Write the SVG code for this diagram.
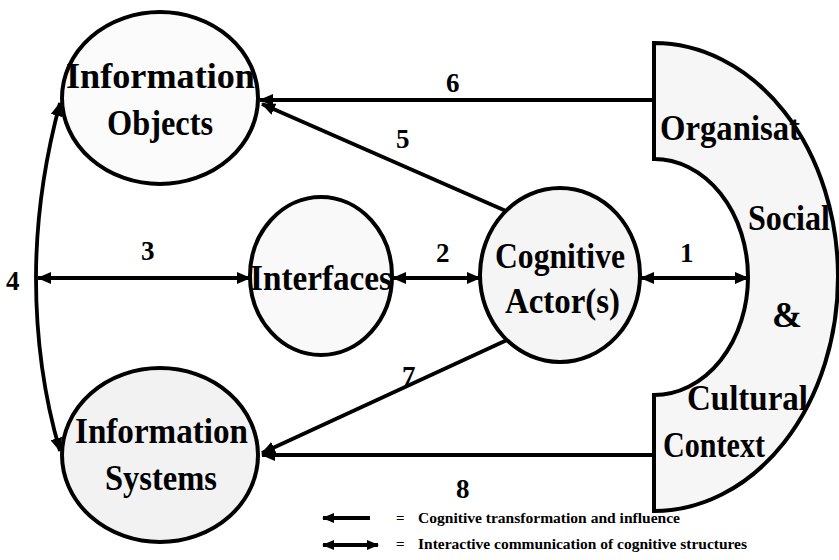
<svg xmlns="http://www.w3.org/2000/svg" width="839" height="560" viewBox="0 0 839 560">
<style>
.node{stroke:#000;stroke-width:4;}
.lbl{font-family:"Liberation Serif","Times New Roman",serif;font-weight:bold;font-size:36px;fill:#000;}
.num{font-family:"Liberation Serif","Times New Roman",serif;font-weight:bold;font-size:27px;fill:#000;}
.leg{font-family:"Liberation Serif","Times New Roman",serif;font-weight:bold;font-size:15px;fill:#000;}
.con{fill:none;stroke:#000;stroke-width:3.8;}
</style>
<defs>
<marker id="ah" markerUnits="userSpaceOnUse" markerWidth="14" markerHeight="12" refX="13" refY="6" orient="auto-start-reverse">
<path d="M0,0 L14,6 L0,12 Z" fill="#000"/>
</marker>
<marker id="ahs" markerUnits="userSpaceOnUse" markerWidth="12" markerHeight="10" refX="11" refY="5" orient="auto-start-reverse">
<path d="M0,0 L12,5 L0,10 Z" fill="#000"/>
</marker>
</defs>
<rect width="839" height="560" fill="#fff"/>

<g id="context">
<path class="node" fill="#f6f6f6" d="M654,43 A184,234 0 0 1 838,277 A184,234 0 0 1 654,511 L654,395 A94,118 0 0 0 748,277 A94,118 0 0 0 654,159 Z"/>
<text class="lbl" x="660" y="140" textLength="140" lengthAdjust="spacingAndGlyphs">Organisat</text>
<text class="lbl" x="748" y="230" textLength="82" lengthAdjust="spacingAndGlyphs">Social</text>
<text class="lbl" x="772" y="327">&amp;</text>
<text class="lbl" x="687" y="410" textLength="121" lengthAdjust="spacingAndGlyphs">Cultural</text>
<text class="lbl" x="663" y="457" textLength="102" lengthAdjust="spacingAndGlyphs" font-weight="normal">Context</text>
</g>

<g id="info-objects">
<ellipse class="node" fill="#fbfbfb" cx="160" cy="98" rx="98" ry="86"/>
<text class="lbl" x="66" y="88" textLength="189" lengthAdjust="spacingAndGlyphs">Information</text>
<text class="lbl" x="107" y="135" textLength="106" lengthAdjust="spacingAndGlyphs">Objects</text>
</g>

<g id="interfaces">
<ellipse class="node" fill="#f9f9f9" cx="321" cy="276" rx="71" ry="79"/>
<text class="lbl" x="250" y="290" textLength="142" lengthAdjust="spacingAndGlyphs">Interfaces</text>
</g>

<g id="cognitive-actor">
<ellipse class="node" fill="#f5f5f5" cx="560" cy="275" rx="80" ry="87"/>
<text class="lbl" x="495" y="268" textLength="130" lengthAdjust="spacingAndGlyphs">Cognitive</text>
<text class="lbl" x="505" y="313" textLength="115" lengthAdjust="spacingAndGlyphs">Actor(s)</text>
</g>

<g id="info-systems">
<ellipse class="node" fill="#f2f2f2" cx="160" cy="455" rx="98" ry="87"/>
<text class="lbl" x="75" y="443" textLength="173" lengthAdjust="spacingAndGlyphs">Information</text>
<text class="lbl" x="105" y="490" textLength="112" lengthAdjust="spacingAndGlyphs">Systems</text>
</g>

<g id="connectors">
<path class="con" d="M654,100 L260,100" marker-end="url(#ah)"/>
<path class="con" stroke-width="3" d="M506,211 L262,104" marker-end="url(#ah)"/>
<path class="con" d="M38,278 L250,278" marker-start="url(#ah)" marker-end="url(#ah)"/>
<path class="con" d="M393,278 L480,278" marker-start="url(#ah)" marker-end="url(#ah)"/>
<path class="con" d="M641,278 L748,278" marker-start="url(#ah)" marker-end="url(#ah)"/>
<path class="con" d="M60,103 C42,170 36,230 36,278 C36,330 42,390 60,451" marker-start="url(#ah)" marker-end="url(#ah)"/>
<path class="con" d="M507,340 L262,453" marker-end="url(#ah)"/>
<path class="con" stroke-width="3" d="M654,455 L262,455" marker-end="url(#ah)"/>
</g>

<g id="numbers">
<text class="num" x="446" y="92">6</text>
<text class="num" x="396" y="148">5</text>
<text class="num" x="141" y="260">3</text>
<text class="num" x="436" y="262">2</text>
<text class="num" x="680" y="262">1</text>
<text class="num" x="6" y="290">4</text>
<text class="num" x="402" y="385" font-weight="normal">7</text>
<text class="num" x="456" y="498">8</text>
</g>

<g id="legend">
<path class="con" stroke-width="3" d="M370,518 L323,518" marker-end="url(#ahs)"/>
<path class="con" stroke-width="3" d="M323,545 L378,545" marker-start="url(#ahs)" marker-end="url(#ahs)"/>
<text class="leg" x="396" y="523">=</text>
<text class="leg" x="418" y="523" textLength="262" lengthAdjust="spacingAndGlyphs">Cognitive transformation and influence</text>
<text class="leg" x="396" y="549">=</text>
<text class="leg" x="418" y="549" textLength="329" lengthAdjust="spacingAndGlyphs">Interactive communication of cognitive structures</text>
</g>
</svg>
